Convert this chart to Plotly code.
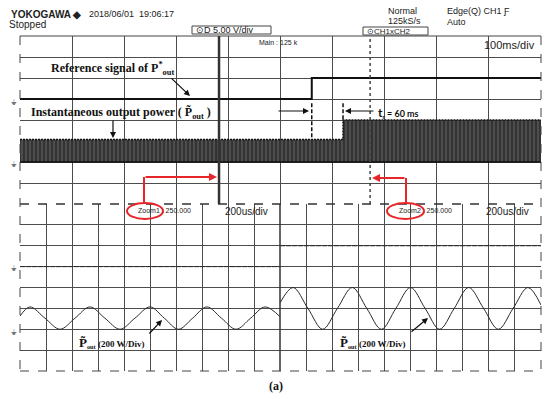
import plotly.graph_objects as go

W, H = 550, 399

# main window (100 ms/div), values in divisions
ref_t = [0, 560, 560, 1000]
ref_level = [1.0, 1.0, 2.0, 2.0]
band_t = [0, 620, 620, 1000]
band_top = [-0.93, -0.93, 0.0, 0.0]
band_floor_t = [0, 1000]
band_floor = [-2.0, -2.0]
zoom_marks_ms = [382, 672]
step_marks_ms = [560, 620]
step_mark_top = [0.8, 0.8]
step_mark_bottom = [-0.93, 0.0]

# zoom windows (200 us/div)
flat_t = [0, 2000]
zoom1_flat = [1.0, 1.0]
zoom2_flat = [2.0, 2.0]
zoom1_t = [0, 77, 192, 308, 423, 538, 653, 769, 884, 1000, 1110, 1219, 1328, 1438, 1550, 1662, 1774, 1885, 2000]
zoom1_p = [-1.37, -0.93, -1.47, -2.0, -1.47, -0.93, -1.47, -2.0, -1.47, -0.93, -1.47, -2.0, -1.47, -0.93, -1.47, -2.0, -1.47, -0.93, -1.4]
zoom2_t = [0, 100, 214, 327, 440, 554, 665, 777, 888, 1000, 1112, 1223, 1335, 1446, 1560, 1673, 1786, 1900, 2000]
zoom2_p = [-0.74, 0.0, -1.0, -2.0, -1.0, 0.0, -1.0, -2.0, -1.0, 0.0, -1.0, -2.0, -1.0, 0.0, -1.0, -2.0, -1.0, 0.0, -0.84]

SANS = 'Liberation Sans Narrow, Liberation Sans, Arial'
SERIF = 'Liberation Serif, Times New Roman, serif'
TRACE = '#2a2a2a'
GRID = '#4c4c4c'
RED = '#e8262a'


def px(x):
    return x / W


def py(y):
    return 1 - y / H


fig = go.Figure()

# main window
fig.add_trace(go.Scatter(x=band_floor_t, y=band_floor, mode='lines',
                         line=dict(color='#111', width=1.5), xaxis='x', yaxis='y'))
fig.add_trace(go.Scatter(x=band_t, y=band_top, mode='lines', fill='tonexty',
                         fillcolor='#3a3a3a',
                         fillpattern=dict(shape='|', fgcolor='#9a9a9a', bgcolor='#333333',
                                          size=4, solidity=0.25),
                         line=dict(color='#111', width=1.5, dash='2px,1px'), xaxis='x', yaxis='y'))
fig.add_trace(go.Scatter(x=ref_t, y=ref_level, mode='lines',
                         line=dict(color='#111', width=2), xaxis='x', yaxis='y'))
fig.add_trace(go.Scatter(x=[zoom_marks_ms[0]] * 2, y=[-4, 4], mode='lines',
                         line=dict(color='#333', width=2.5), xaxis='x', yaxis='y'))
fig.add_trace(go.Scatter(x=[zoom_marks_ms[1]] * 2, y=[-4, 4], mode='lines',
                         line=dict(color='#444', width=1.5, dash='dot'), xaxis='x', yaxis='y'))
for t, y0, y1 in zip(step_marks_ms, step_mark_top, step_mark_bottom):
    fig.add_trace(go.Scatter(x=[t, t], y=[y0, y1], mode='lines',
                             line=dict(color='#111', width=1.5, dash='4px,2px'), xaxis='x', yaxis='y'))

# zoom windows
fig.add_trace(go.Scatter(x=flat_t, y=zoom1_flat, mode='lines',
                         line=dict(color=TRACE, width=1, dash='5px,1px'), xaxis='x2', yaxis='y2'))
fig.add_trace(go.Scatter(x=zoom1_t, y=zoom1_p, mode='lines', line_shape='spline',
                         line=dict(color=TRACE, width=1), xaxis='x2', yaxis='y2'))
fig.add_trace(go.Scatter(x=flat_t, y=zoom2_flat, mode='lines',
                         line=dict(color=TRACE, width=1, dash='5px,1px'), xaxis='x3', yaxis='y3'))
fig.add_trace(go.Scatter(x=zoom2_t, y=zoom2_p, mode='lines', line_shape='spline',
                         line=dict(color=TRACE, width=1), xaxis='x3', yaxis='y3'))

axis_style = dict(showgrid=True, gridcolor=GRID, gridwidth=1, zeroline=False,
                  showticklabels=False, ticks='', showline=False, fixedrange=True)

fig.update_layout(
    width=W, height=H,
    margin=dict(l=0, r=0, t=0, b=0),
    paper_bgcolor='white', plot_bgcolor='white',
    showlegend=False,
    xaxis=dict(domain=[px(20), px(541)], range=[0, 1000], dtick=100, anchor='y', **axis_style),
    yaxis=dict(domain=[py(204), py(36)], range=[-4, 4], dtick=1, anchor='x', **axis_style),
    xaxis2=dict(domain=[px(20), px(280)], range=[0, 2000], dtick=200, anchor='y2', **axis_style),
    yaxis2=dict(domain=[py(371), py(204)], range=[-4, 4], dtick=1, anchor='x2', **axis_style),
    xaxis3=dict(domain=[px(280), px(541)], range=[0, 2000], dtick=200, anchor='y3', **axis_style),
    yaxis3=dict(domain=[py(371), py(204)], range=[-4, 4], dtick=1, anchor='x3', **axis_style),
)

shapes = []


def seg(x0, y0, x1, y1, color='#555', width=1, dash='solid'):
    shapes.append(dict(type='line', xref='paper', yref='paper', x0=px(x0), y0=py(y0),
                       x1=px(x1), y1=py(y1), line=dict(color=color, width=width, dash=dash)))


# screen frame
seg(20, 36, 541, 36, '#444', 1)
seg(20, 36, 20, 371, '#444', 1, 'dash')
seg(541, 36, 541, 371, '#444', 1, 'dash')
seg(20, 204, 541, 204, '#333', 1.5, 'dash')
seg(20, 371, 541, 371, '#444', 1, 'dash')
seg(280, 204, 280, 371, '#333', 1.5)

# header boxes
shapes.append(dict(type='rect', xref='paper', yref='paper', x0=px(192), x1=px(271), y0=py(34), y1=py(26),
                   line=dict(color='#444', width=1)))
shapes.append(dict(type='rect', xref='paper', yref='paper', x0=px(363), x1=px(428), y0=py(35), y1=py(27),
                   line=dict(color='#444', width=1)))

# red zoom callouts
seg(144, 203, 144, 177, RED, 2)
seg(406, 203, 406, 178, RED, 2)
shapes.append(dict(type='circle', xref='paper', yref='paper', x0=px(127), x1=px(163), y0=py(219), y1=py(203),
                   line=dict(color=RED, width=2)))
shapes.append(dict(type='circle', xref='paper', yref='paper', x0=px(387), x1=px(424), y0=py(219), y1=py(203),
                   line=dict(color=RED, width=2)))

fig.update_layout(shapes=shapes)

anns = []


def txt(text, x, y, size, family=SANS, xanchor='left', color='#222'):
    anns.append(dict(text=text, xref='paper', yref='paper', x=px(x), y=py(y), xanchor=xanchor,
                     yanchor='middle', showarrow=False, font=dict(size=size, family=family, color=color)))


def arrow(hx, hy, tx, ty, color='#111', width=1.2, head=2, size=1):
    anns.append(dict(text='', xref='paper', yref='paper', x=px(hx), y=py(hy), ax=tx - hx, ay=ty - hy,
                     showarrow=True, arrowhead=head, arrowsize=size, arrowwidth=width, arrowcolor=color))


# header
txt('<b>YOKOGAWA ◆</b>', 9, 14, 10, 'Liberation Sans Narrow, Liberation Sans, Arial')
txt('2018/06/01  19:06:17', 87, 14, 9)
txt('Stopped', 7, 24, 10)
txt('Normal', 386, 11, 9)
txt('125kS/s', 386, 21, 9)
txt('Edge(Q) CH1 Ƒ', 445, 11, 9)
txt('Auto', 445, 22, 9)
txt('⊙D 5.00 V/div', 194, 30, 9)
txt('⊙CH1xCH2', 365, 31, 8)
txt('Main : 125 k', 257, 42, 7)
txt('100ms/div', 537, 45, 11, xanchor='right')
txt('Zoom1 : 250.000', 136, 210, 7)
txt('200us/div', 270, 211, 10, xanchor='right')
txt('Zoom2 : 250.000', 397, 210, 7)
txt('200us/div', 531, 211, 10, xanchor='right')

# ground markers on the left edge
for gy in [102, 164, 268, 332]:
    txt('⏚', 9, gy, 8, 'DejaVu Sans', color='#777')

# callout texts
txt('<b>Reference signal of P<sup>*</sup><sub>out</sub></b>', 49, 69, 12, SERIF, color='#111')
txt('<b>Instantaneous output power ( P\u0303<sub>out</sub> )</b>', 29, 113, 12, SERIF, color='#111')
txt('<b><span style="font-size:12px">t</span><sub>r</sub> = 60 ms</b>', 376, 112, 9, 'Lato, Liberation Sans', color='#111')
txt('<b><span style="font-size:13px">P\u0303</span><sub>out</sub> (200 W/Div)</b>', 77, 342, 9, SERIF, color='#111')
txt('<b><span style="font-size:13px">P\u0303</span><sub>out</sub> (200 W/Div)</b>', 338, 342, 9, SERIF, color='#111')
txt('<b>(a)</b>', 276, 386, 12, SERIF, xanchor='center', color='#111')

arrow(190, 96, 170, 77)
arrow(113, 138, 113, 119)
arrow(309, 111, 277, 111)
arrow(345, 111, 375, 111)
arrow(162, 320, 148, 335)
arrow(428, 318, 410, 333)
arrow(217, 177, 144, 177, RED, 2, 2, 0.8)
arrow(372, 178, 406, 178, RED, 2, 2, 0.8)

fig.update_layout(annotations=anns)

fig.write_html('out.html', config={'displayModeBar': False},
               post_script="document.body.style.margin='0';")
